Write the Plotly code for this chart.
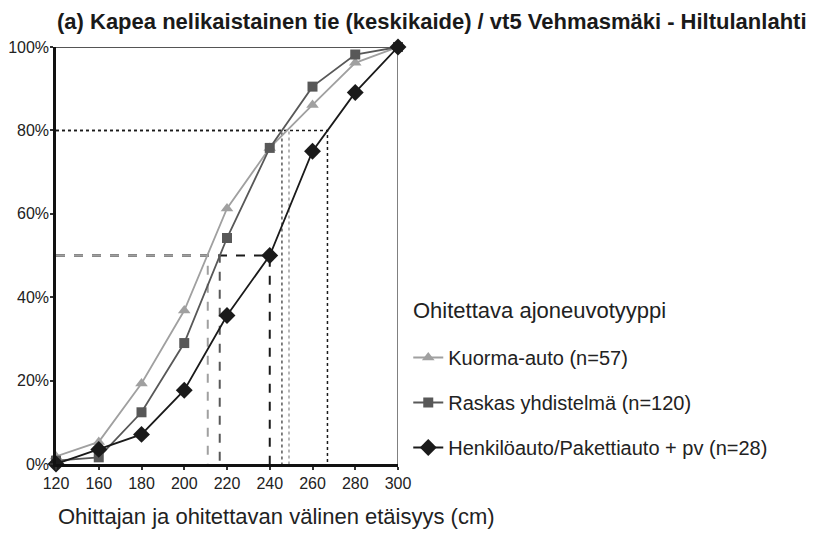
import numpy as np
import plotly.graph_objects as go

# etäisyys (cm) ja kumulatiiviset osuudet (%)
distances = [120, 160, 180, 200, 220, 240, 260, 280, 300]
kuorma = [1.8, 5.3, 19.3, 36.8, 61.3, 75.8, 86.1, 96.2, 100]
raskas = [0.8, 1.6, 12.4, 29.0, 54.2, 75.8, 90.5, 98.2, 100]
henkilo = [0.0, 3.5, 7.1, 17.7, 35.6, 50.0, 75.0, 89.1, 100]

series_names = ["Kuorma-auto (n=57)", "Raskas yhdistelmä (n=120)",
                "Henkilöauto/Pakettiauto + pv (n=28)"]
median_cm = [211.0, 216.6, 240.0]
p80_cm = [249.0, 245.7, 267.0]
y_ticks = [0, 20, 40, 60, 80, 100]

FONT = "Liberation Sans, Arial, sans-serif"
colors = ["#a0a0a0", "#585858", "#1a1a1a"]
symbols = ["triangle-up", "square", "diamond"]
msizes = [11, 10, 13]

idx = list(range(len(distances)))


def pos(cm):
    # kategoria-akselin paikka etäisyydelle
    return float(np.interp(cm, distances, idx))


fig = go.Figure()

# 50 %: harmaa päällimmäisenä, 80 %: musta päällimmäisenä
for cm, col in reversed(list(zip(median_cm, colors))):
    fig.add_trace(go.Scatter(
        x=[0, pos(cm), pos(cm)], y=[50, 50, 0], mode="lines",
        line=dict(color=col, width=2, dash="dash"),
        showlegend=False, hoverinfo="skip", cliponaxis=False))
for cm, col in zip(p80_cm, colors):
    fig.add_trace(go.Scatter(
        x=[0, pos(cm), pos(cm)], y=[80, 80, 0], mode="lines",
        line=dict(color=col, width=1.5, dash="dot"),
        showlegend=False, hoverinfo="skip", cliponaxis=False))

for i, (vals, name) in enumerate(zip([kuorma, raskas, henkilo], series_names)):
    fig.add_trace(go.Scatter(
        x=idx, y=vals, name=name, mode="lines+markers",
        line=dict(color=colors[i], width=1.8),
        marker=dict(symbol=symbols[i], size=msizes[i], color=colors[i]),
        legendgroup=name, cliponaxis=False))

# ylä- ja oikea reuna
fig.add_shape(type="line", xref="x", yref="y", x0=0, x1=8, y0=100, y1=100,
              line=dict(color="#555555", width=2), layer="below")
fig.add_shape(type="line", xref="x", yref="y", x0=8, x1=8, y0=0, y1=100,
              line=dict(color="#808080", width=2), layer="below")

fig.add_annotation(text="Ohittajan ja ohitettavan välinen etäisyys (cm)",
                   xref="paper", yref="paper", x=0, y=-0.125,
                   xanchor="left", yanchor="middle", showarrow=False,
                   font=dict(family=FONT, size=22, color="#222222"))
fig.add_annotation(text="Ohitettava ajoneuvotyyppi",
                   xref="paper", yref="paper", x=(411 - 56) / 342,
                   y=(464 - 310) / 417, xanchor="left", yanchor="middle",
                   showarrow=False,
                   font=dict(family=FONT, size=22, color="#222222"))

fig.update_layout(
    width=823, height=548,
    margin=dict(l=56, r=425, t=47, b=84, autoexpand=False),
    paper_bgcolor="white", plot_bgcolor="white",
    font=dict(family=FONT, color="#222222"),
    title=dict(text="<b>(a) Kapea nelikaistainen tie (keskikaide) / vt5 Vehmasmäki - Hiltulanlahti</b>",
               x=57 / 823, xanchor="left", xref="container",
               y=1 - 21 / 548, yanchor="middle", yref="container",
               font=dict(family=FONT, size=22, color="#1a1a1a")),
    showlegend=True,
    legend=dict(x=1.03, xanchor="left", y=(464 - 338) / 417, yanchor="top",
                font=dict(family=FONT, size=20, color="#222222"),
                tracegroupgap=16, bgcolor="rgba(0,0,0,0)"),
    xaxis=dict(range=[0, 8], tickvals=idx, ticktext=[str(d) for d in distances],
               showgrid=False, zeroline=False, showline=True, automargin=False,
               linecolor="#111111", linewidth=2.5,
               ticks="outside", ticklen=3, tickwidth=2, tickcolor="#333333",
               ticklabelstandoff=0,
               tickfont=dict(family=FONT, size=16, color="#222222")),
    yaxis=dict(range=[0, 100], tickvals=y_ticks,
               ticktext=[f"{v}%" for v in y_ticks],
               showgrid=False, zeroline=False, showline=True, automargin=False,
               linecolor="#111111", linewidth=2.5,
               ticks="outside", ticklen=3, tickwidth=2, tickcolor="#333333",
               ticklabelstandoff=-2,
               tickfont=dict(family=FONT, size=16, color="#222222")),
)

# sivun oletusmarginaali pois, jotta kuva alkaa vasemmasta yläkulmasta
fig.write_html("out.html", config={"displayModeBar": False},
               post_script="document.body.style.margin='0';")
